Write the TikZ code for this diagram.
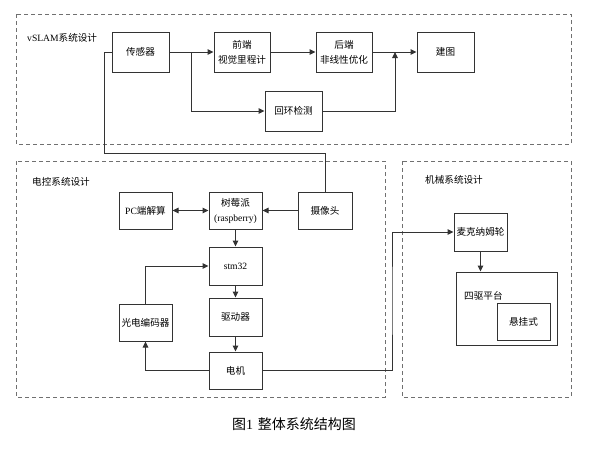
\documentclass[tikz,border=0pt]{standalone}
\usepackage{fontspec}
\setmainfont{Noto Sans CJK SC}
\newfontfamily\lat{Liberation Serif}
\usetikzlibrary{arrows.meta,calc}
\definecolor{ln}{HTML}{333333}
\definecolor{dsh}{HTML}{707070}
\begin{document}
\begin{tikzpicture}[x=1pt,y=-1pt,
  blk/.style={draw=ln,line width=1pt,fill=white,inner sep=1pt,align=center,font=\fontsize{9.6}{15}\selectfont},
  conn/.style={draw=ln,line width=1pt},
  arr/.style={conn,-{Triangle[length=6pt,width=5.5pt]}},
  darr/.style={conn,{Triangle[length=6pt,width=5.5pt]}-{Triangle[length=6pt,width=5.5pt]}},
  dashbox/.style={draw=dsh,line width=0.9pt,dash pattern=on 4pt off 3pt},
  lbl/.style={font=\fontsize{9.6}{11}\selectfont,anchor=west,inner sep=0pt}]
\useasboundingbox (0,0) rectangle (596,448);
% dashed groups
\draw[dashbox] (16,14) rectangle (571,144);
\draw[dashbox] (16,161) rectangle (385,397);
\draw[dashbox] (402,161) rectangle (571,397);
\node[lbl] (t1) at (27,38) {{\lat vSLAM}系统设计};
\node[lbl] (t2) at (32,182) {电控系统设计};
\node[lbl] (t3) at (425,180) {机械系统设计};
% vSLAM
\node[blk,minimum width=57pt,minimum height=40pt] (s) at (140.5,52) {传感器};
\node[blk,minimum width=56pt,minimum height=40pt] (fe) at (242,52) {前端\\视觉里程计};
\node[blk,minimum width=56pt,minimum height=40pt] (be) at (344,52) {后端\\非线性优化};
\node[blk,minimum width=57pt,minimum height=40pt] (map) at (445.5,52) {建图};
\node[blk,minimum width=57pt,minimum height=40pt] (lc) at (293.5,111) {回环检测};
\coordinate (b1) at (191,52);
\coordinate (b2) at (395,52);
\draw[arr] (s.east) -- (fe.west);
\draw[arr] (b1) |- (lc.west);
\draw[arr] (fe.east) -- (be.west);
\draw[arr] (be.east) -- (map.west);
\draw[arr] (lc.east) -| (b2);
% electrical
\node[blk,minimum width=53pt,minimum height=37pt] (pc) at (145.5,210.5) {{\lat PC}端解算};
\node[blk,minimum width=53pt,minimum height=37pt] (rpi) at (235.5,210.5) {树莓派\\{\lat (raspberry)}};
\node[blk,minimum width=54pt,minimum height=37pt] (cam) at (325,210.5) {摄像头};
\node[blk,minimum width=53pt,minimum height=38pt] (stm) at (235.5,266) {\lat stm32};
\node[blk,minimum width=53pt,minimum height=38pt] (drv) at (235.5,317) {驱动器};
\node[blk,minimum width=53pt,minimum height=37pt] (mot) at (235.5,370.5) {电机};
\node[blk,minimum width=53pt,minimum height=37pt] (enc) at (145.5,322.5) {光电编码器};
\coordinate (c1) at (104,153);
\draw[conn] (cam.north) |- (c1) |- (s.west);
\draw[darr] (pc.east) -- (rpi.west);
\draw[arr] (cam.west) -- (rpi.east);
\draw[arr] (rpi.south) -- (stm.north);
\draw[arr] (stm.south) -- (drv.north);
\draw[arr] (drv.south) -- (mot.north);
\draw[arr] (mot.west) -| (enc.south);
\draw[arr] (enc.north) |- (stm.west);
% mechanical
\node[blk,minimum width=53pt,minimum height=38pt] (mk) at (480.5,232) {麦克纳姆轮};
\node[blk,minimum width=101pt,minimum height=73pt] (pf) at (506.5,308.5) {};
\node[lbl] (pft) at (464,296) {四驱平台};
\node[blk,minimum width=53pt,minimum height=37pt] (sus) at (523.5,321.5) {悬挂式};
\coordinate (c2) at (392,300);
\draw[arr] (mot.east) -| (c2) |- (mk.west);
\draw[arr] (mk.south) -- (mk.south |- pf.north);
% caption
\node[font=\fontsize{14}{16}\selectfont,inner sep=0pt] (cap) at (294,424) {图{\lat 1}\hspace{0.35em}整体系统结构图};
\end{tikzpicture}
\end{document}
